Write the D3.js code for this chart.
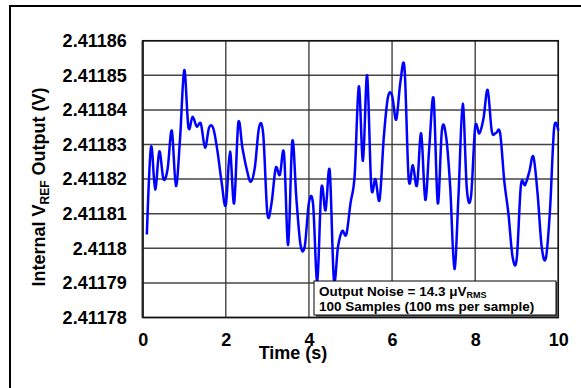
<!DOCTYPE html>
<html>
<head>
<meta charset="utf-8">
<script src="https://cdn.jsdelivr.net/npm/d3@7"></script>
<style>
  body { margin: 0; background: #fff; }
  text { font-family: "Liberation Sans", Arial, sans-serif; font-weight: bold; fill: #000; }
</style>
</head>
<body>
<svg id="chart" width="581" height="388"></svg>
<script>
// sample times (s), 100 ms per sample
const times = d3.range(1, 101).map(i => i / 10);

// internal VREF output (V)
const vref = [
  2.4118040, 2.4118293, 2.4118170, 2.4118280, 2.4118200, 2.4118230, 2.4118340, 2.4118180, 2.4118320, 2.4118515,
  2.4118350, 2.4118380, 2.4118352, 2.4118360, 2.4118291, 2.4118350, 2.4118346, 2.4118280, 2.4118190, 2.4118125,
  2.4118280, 2.4118130, 2.4118362, 2.4118290, 2.4118230, 2.4118192, 2.4118235, 2.4118350, 2.4118330, 2.4118100,
  2.4118130, 2.4118232, 2.4118212, 2.4118275, 2.4118010, 2.4118310, 2.4118140, 2.4118008, 2.4118006, 2.4118132,
  2.4118127, 2.4117905, 2.4118175, 2.4118110, 2.4118225, 2.4117910, 2.4118005, 2.4118050, 2.4118040, 2.4118130,
  2.4118210, 2.4118468, 2.4118253, 2.4118500, 2.4118179, 2.4118200, 2.4118140, 2.4118319, 2.4118436, 2.4118442,
  2.4118372, 2.4118480, 2.4118520, 2.4118200, 2.4118240, 2.4118182, 2.4118332, 2.4118140, 2.4118300, 2.4118432,
  2.4118130, 2.4118342, 2.4118323, 2.4118175, 2.4117940, 2.4118157, 2.4118418, 2.4118170, 2.4118150, 2.4118350,
  2.4118332, 2.4118375, 2.4118458, 2.4118338, 2.4118333, 2.4118333, 2.4118195, 2.4118100, 2.4117975, 2.4117970,
  2.4118182, 2.4118183, 2.4118220, 2.4118265, 2.4118160, 2.4118005, 2.4117971, 2.4118110, 2.4118348, 2.4118340
];

const yTicks = [2.41178, 2.41179, 2.4118, 2.41181, 2.41182, 2.41183, 2.41184, 2.41185, 2.41186];
const yTickLabels = ["2.41178", "2.41179", "2.4118", "2.41181", "2.41182", "2.41183", "2.41184", "2.41185", "2.41186"];
const xTicks = [0, 2, 4, 6, 8, 10];

const svg = d3.select("#chart");
const pLeft = 142.7, pRight = 558.3, pTop = 40.7, pBottom = 317.5;

const x = d3.scaleLinear().domain([0, 10]).range([pLeft, pRight]);
const y = d3.scaleLinear().domain([2.41178, 2.41186]).range([pBottom, pTop]);

// outer frame (runs off the right and bottom edges)
svg.append("rect")
    .attr("x", 10).attr("y", 6).attr("width", 620).attr("height", 420)
    .style("fill", "none").style("stroke", "#000").style("stroke-width", 2);

// grid
svg.selectAll("line.h")
    .data(yTicks).enter()
    .append("line").attr("class", "h")
    .attr("x1", pLeft).attr("x2", pRight)
    .attr("y1", d => y(d)).attr("y2", d => y(d))
    .style("stroke", "#444").style("stroke-width", 1.5);
svg.selectAll("line.v")
    .data(xTicks).enter()
    .append("line").attr("class", "v")
    .attr("x1", d => x(d)).attr("x2", d => x(d))
    .attr("y1", pTop).attr("y2", pBottom)
    .style("stroke", "#333").style("stroke-width", 1.3);

// plot border
svg.append("rect")
    .attr("x", pLeft).attr("y", pTop).attr("width", pRight - pLeft).attr("height", pBottom - pTop)
    .style("fill", "none").style("stroke", "#111").style("stroke-width", 1.5);
svg.append("line")
    .attr("x1", pLeft).attr("x2", pLeft).attr("y1", pTop).attr("y2", pBottom)
    .style("stroke", "#222").style("stroke-width", 2.2);

// data line
const line = d3.line()
    .x((d, i) => x(times[i]))
    .y(d => y(d))
    .curve(d3.curveCatmullRom.alpha(0));

svg.append("path")
    .datum(vref)
    .attr("d", line)
    .style("fill", "none")
    .style("stroke", "#0000ff")
    .style("stroke-width", 2.5)
    .style("stroke-linejoin", "round");

// axes (labels only)
const yAxis = svg.append("g")
    .attr("transform", `translate(${pLeft},0)`)
    .call(d3.axisLeft(y).tickValues(yTicks).tickSize(0).tickPadding(16)
        .tickFormat((d, i) => yTickLabels[i]));
const xAxis = svg.append("g")
    .attr("transform", `translate(0,${pBottom})`)
    .call(d3.axisBottom(x).tickValues(xTicks).tickSize(0).tickPadding(16));
[yAxis, xAxis].forEach(g => {
    g.select(".domain").remove();
    g.selectAll("text")
        .style("font-family", '"Liberation Sans", Arial, sans-serif')
        .style("font-weight", "bold")
        .style("font-size", "18px")
        .style("fill", "#000");
});

// axis titles
svg.append("text")
    .attr("x", 293).attr("y", 359)
    .attr("text-anchor", "middle")
    .style("font-size", "18px")
    .text("Time (s)");

const yt = svg.append("text")
    .attr("transform", "translate(45,187) rotate(-90)")
    .attr("text-anchor", "middle")
    .style("font-size", "18px");
yt.append("tspan").text("Internal V");
yt.append("tspan").attr("dy", 4).style("font-size", "12px").text("REF");
yt.append("tspan").attr("dy", -4).text(" Output (V)");

// note box
const bx = 314, by = 281, bw = 242, bh = 34;
svg.append("rect")
    .attr("x", bx + 2).attr("y", by + 2).attr("width", bw).attr("height", bh)
    .style("fill", "#555");
svg.append("rect")
    .attr("x", bx).attr("y", by).attr("width", bw).attr("height", bh)
    .style("fill", "#fff").style("stroke", "#000").style("stroke-width", 1);

const n1 = svg.append("text")
    .attr("x", bx + 5).attr("y", by + 15)
    .style("font-size", "13.5px");
n1.append("tspan").text("Output Noise = 14.3 \u03bcV");
n1.append("tspan").attr("dy", 2).style("font-size", "9px").text("RMS");

svg.append("text")
    .attr("x", bx + 5).attr("y", by + 30)
    .style("font-size", "13.5px")
    .text("100 Samples (100 ms per sample)");
</script>
</body>
</html>
